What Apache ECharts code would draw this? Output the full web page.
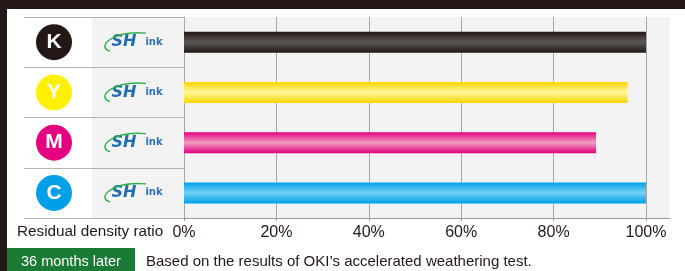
<!DOCTYPE html>
<html>
<head>
<meta charset="utf-8">
<script src="https://cdn.jsdelivr.net/npm/echarts@6/dist/echarts.min.js"></script>
<style>
  html, body { margin: 0; padding: 0; background: #fff; }
  #chart { width: 685px; height: 271px; }
</style>
</head>
<body>
<div id="chart"></div>
<script>
// 数据
const inks = ['K', 'Y', 'M', 'C'];
const ratios = [100, 96, 89.2, 100];   // residual density ratio, %
const axisMin = 0;
const axisMax = 100;
const axisStep = 20;

// 颜色
const inkColors = {
  K: { dot: '#231815', edge: '#231815', mid: '#5b5756' },
  Y: { dot: '#fff100', edge: '#ffd500', mid: '#fff69a' },
  M: { dot: '#e4007f', edge: '#e4007f', mid: '#f29cc3' },
  C: { dot: '#00a0e9', edge: '#00a0e9', mid: '#74d1f6' }
};
const textColor = '#231815';
const font = 'Liberation Sans, Arial, sans-serif';

let chart = echarts.init(document.getElementById('chart'));

// 轴标签: 圆圈字母 + logo
let rich = {
  gap: { width: 36, height: 36, lineHeight: 36 },
  sh: { fontSize: 16, fontStyle: 'italic', fontWeight: 900, color: '#1f6db3', width: 32, height: 36, lineHeight: 36, align: 'left', verticalAlign: 'middle', fontFamily: 'DejaVu Sans' },
  ink: { fontSize: 10, fontWeight: 'bold', color: '#2a73b8', width: 28, height: 36, lineHeight: 36, align: 'left', verticalAlign: 'middle', fontFamily: 'DejaVu Sans' }
};
inks.forEach(k => {
  rich['c' + k] = {
    backgroundColor: inkColors[k].dot,
    borderRadius: 18,
    width: 36,
    height: 36,
    lineHeight: 36,
    align: 'center',
    verticalAlign: 'middle',
    color: '#fff',
    fontSize: 21,
    fontWeight: 'bold',
    fontFamily: font
  };
});

let seriesData = ratios.map((v, i) => {
  let c = inkColors[inks[i]];
  return {
    value: v,
    itemStyle: {
      color: new echarts.graphic.LinearGradient(0, 0, 0, 1, [
        { offset: 0, color: c.edge },
        { offset: 0.5, color: c.mid },
        { offset: 1, color: c.edge }
      ])
    }
  };
});

chart.setOption({
  animation: false,
  textStyle: { fontFamily: font },
  grid: { left: 184, right: 39, top: 17, bottom: 53 },
  xAxis: {
    type: 'value',
    min: axisMin,
    max: axisMax,
    interval: axisStep,
    axisLine: { show: true, lineStyle: { color: '#9a9a9a' } },
    axisTick: { show: true, length: 3, lineStyle: { color: '#9a9a9a' } },
    splitLine: { show: true, lineStyle: { color: '#a8a8a8', width: 1 } },
    axisLabel: {
      formatter: '{value}%',
      fontSize: 16,
      color: textColor,
      margin: 7
    }
  },
  yAxis: {
    type: 'category',
    data: inks,
    inverse: true,
    axisLine: { show: true, lineStyle: { color: '#a8a8a8' } },
    axisTick: { show: true, length: 160, lineStyle: { color: '#b4b4b4' } },
    axisLabel: {
      margin: 16,
      formatter: v => '{c' + v + '|' + v + '}{gap|}{sh|SH}{ink|ink}',
      rich: rich
    }
  },
  graphic: [
    // 灰色面板
    { id: 'panel', type: 'rect', z: -10, shape: { x: 92, y: 17, width: 578, height: 201 }, style: { fill: '#f3f3f3' } },
    { id: 'axisExt', type: 'line', z: -5, shape: { x1: 646, y1: 218.5, x2: 670, y2: 218.5 }, style: { stroke: '#9a9a9a', lineWidth: 1 } },
    // 顶部和左侧深色边框
    { id: 'topBand', type: 'rect', shape: { x: 0, y: 0, width: 685, height: 9 }, style: { fill: '#231815' } },
    { id: 'leftBand', type: 'rect', shape: { x: 0, y: 0, width: 7, height: 271 }, style: { fill: '#231815' } },
    {
      id: 'axisName', type: 'text', left: 17, top: 224,
      style: { text: 'Residual density ratio', fill: textColor, font: '15.3px ' + font }
    },
    { id: 'greenBox', type: 'rect', shape: { x: 7, y: 248, width: 128, height: 23 }, style: { fill: '#1b7a36' } },
    {
      id: 'greenText', type: 'text', left: 21, top: 254,
      style: { text: '36 months later', fill: '#fff', font: '14.5px ' + font }
    },
    {
      id: 'note', type: 'text', left: 146, top: 254,
      style: { text: 'Based on the results of OKI\u2019s accelerated weathering test.', fill: textColor, font: '15px ' + font }
    }
  ],
  series: [{
    type: 'bar',
    barWidth: 21,
    data: seriesData,
    itemStyle: {
      shadowColor: 'rgba(0,0,0,0.35)',
      shadowBlur: 3,
      shadowOffsetX: 2,
      shadowOffsetY: 2
    }
  }]
});

// logo 的绿色弧线, 按类目位置放置
let swooshes = inks.map(k => {
  let y = chart.convertToPixel({ yAxisIndex: 0 }, k);
  return {
    id: 'swoosh' + k,
    type: 'bezierCurve',
    z: 5,
    shape: { x1: 110, y1: y + 9, cpx1: 96, cpy1: y + 5, cpx2: 112, cpy2: y - 12, x2: 146, y2: y - 9 },
    style: { stroke: '#2fae4a', lineWidth: 1.5, fill: null }
  };
});
chart.setOption({ graphic: swooshes });
</script>
</body>
</html>
